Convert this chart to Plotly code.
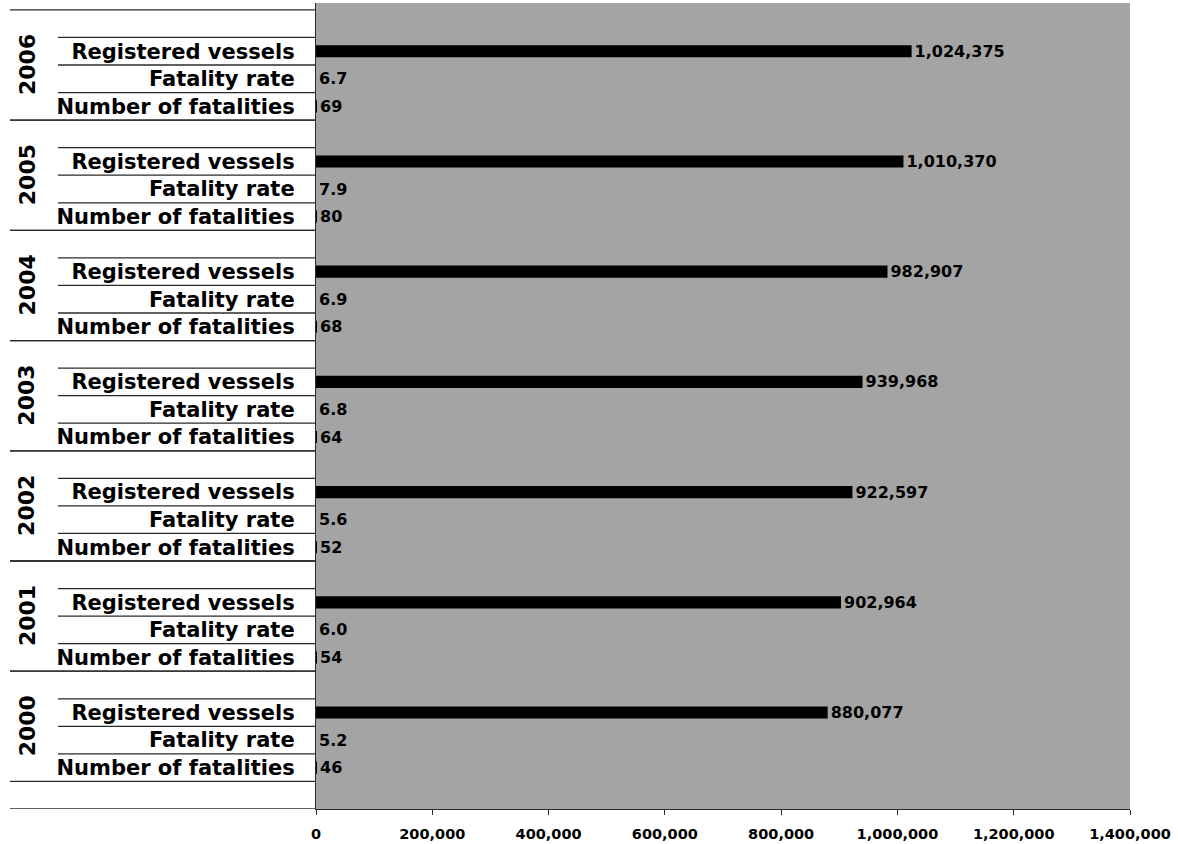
import plotly.graph_objects as go

# Recreational boating: registered vessels, fatality rate and fatalities per year
years = [2000, 2001, 2002, 2003, 2004, 2005, 2006]
registered_vessels = [880077, 902964, 922597, 939968, 982907, 1010370, 1024375]
fatality_rate = [5.2, 6.0, 5.6, 6.8, 6.9, 7.9, 6.7]
fatalities = [46, 54, 52, 64, 68, 80, 69]
row_names = ["Number of fatalities", "Fatality rate", "Registered vessels"]
x_ticks = [0, 200000, 400000, 600000, 800000, 1000000, 1200000, 1400000]

FONT = "DejaVu Sans"
SLOTS_PER_YEAR = 4          # fatalities, rate, vessels, spacer
N_SLOTS = SLOTS_PER_YEAR * len(years) + 1

ys, xs, texts, tickvals, ticktext = [], [], [], [], []
for k, yr in enumerate(years):
    base = 1 + SLOTS_PER_YEAR * k
    rows = [
        (fatalities[k], f"{fatalities[k]:d}"),
        (fatality_rate[k], f"{fatality_rate[k]:.1f}"),
        (registered_vessels[k], f"{registered_vessels[k]:,}"),
    ]
    for j, (val, txt) in enumerate(rows):
        y = base + j + 0.5
        ys.append(y)
        xs.append(val)
        texts.append(txt)
        tickvals.append(y)
        ticktext.append(row_names[j])

fig = go.Figure()
fig.add_trace(go.Bar(
    x=xs, y=ys, orientation="h", width=0.44,
    marker=dict(color="black", line=dict(width=0)),
    text=texts, textposition="outside", cliponaxis=False,
    constraintext="none",
    textfont=dict(family=FONT, size=16, color="black", weight="bold"),
    hoverinfo="skip",
))

L, R, T, B = 316, 48, 3, 35
plot_w = 1178 - L - R


def px_to_paper(px):
    return (px - L) / plot_w


shapes = []
line_style = dict(color="#2a2a2a", width=1.3)
full_x0 = px_to_paper(10)
short_x0 = px_to_paper(58)
# separator rules of the category table on the left
for k in range(len(years)):
    base = 1 + SLOTS_PER_YEAR * k
    for j in range(SLOTS_PER_YEAR + 1):
        yv = base + j
        x0 = full_x0 if j in (0, SLOTS_PER_YEAR) else short_x0
        shapes.append(dict(type="line", xref="paper", yref="y",
                           x0=x0, x1=0, y0=yv, y1=yv, line=line_style, layer="above"))
shapes.append(dict(type="line", xref="paper", yref="y",
                   x0=full_x0, x1=0, y0=0, y1=0, line=line_style, layer="above"))

annotations = []
for k, yr in enumerate(years):
    center = 1 + SLOTS_PER_YEAR * k + SLOTS_PER_YEAR / 2
    annotations.append(dict(
        x=px_to_paper(27), y=center, xref="paper", yref="y",
        text=str(yr), textangle=-90, showarrow=False,
        xanchor="center", yanchor="middle",
        font=dict(family=FONT, size=22, color="black", weight="bold"),
    ))

fig.update_layout(
    width=1178, height=844,
    margin=dict(l=L, r=R, t=T, b=B, autoexpand=False),
    paper_bgcolor="white",
    plot_bgcolor="#a4a4a4",
    showlegend=False,
    shapes=shapes,
    annotations=annotations,
    xaxis=dict(
        range=[0, 1400000], tickvals=x_ticks,
        ticktext=[f"{v:,}" for v in x_ticks],
        showgrid=False, zeroline=False, automargin=False,
        showline=True, linecolor="#2a2a2a", linewidth=1.3,
        ticks="outside", ticklen=5, tickcolor="#2a2a2a",
        tickfont=dict(family=FONT, size=14.5, color="black", weight="bold"),
        ticklabelstandoff=6,
    ),
    yaxis=dict(
        range=[0, N_SLOTS + 0.25], tickvals=tickvals, ticktext=ticktext,
        showgrid=False, zeroline=False, automargin=False,
        showline=True, linecolor="#2a2a2a", linewidth=1.3,
        ticks="", ticklabelstandoff=16,
        tickfont=dict(family=FONT, size=21, color="black", weight="bold"),
    ),
)

fig.write_html("out.html")
